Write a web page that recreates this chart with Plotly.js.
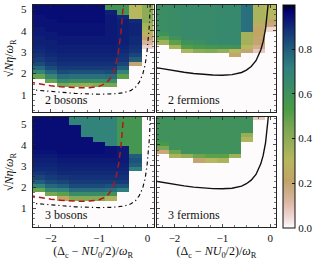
<!DOCTYPE html>
<html>
<head>
<meta charset="utf-8">
<script src="https://cdn.plot.ly/plotly-3.0.1.min.js"></script>
<style>html,body{margin:0;padding:0;background:#fff;}#chart{width:317px;height:260px;}</style>
</head>
<body>
<div id="chart"></div>
<script>
// detuning (cell centres) and coupling (cell centres)
const detuning = [-2.25, -2.0, -1.75, -1.5, -1.25, -1.0, -0.75, -0.5, -0.25, 0.0];
const coupling = [0.25, 0.45, 0.65, 0.85, 1.05, 1.25, 1.45, 1.65, 1.85, 2.05, 2.25, 2.45, 2.65, 2.85,
                  3.05, 3.25, 3.45, 3.65, 3.85, 4.05, 4.25, 4.45, 4.65, 4.85, 5.05, 5.25, 5.45];

// each panel: one list per detuning column, values from lowest to highest coupling
const bosons2Cols = [
  [0,0,0,0,0,0,0,0,0.48,0.68,0.78,0.84,0.87,0.89,0.9,0.91,0.92,0.92,0.93,0.93,0.94,0.94,0.94,0.95,0.95,0.95,0.95],
  [0,0,0,0,0,0,0,0.48,0.68,0.78,0.84,0.87,0.89,0.9,0.91,0.92,0.92,0.93,0.93,0.94,0.94,0.94,0.95,0.95,0.95,0.95,0.95],
  [0,0,0,0,0,0,0.45,0.66,0.77,0.84,0.87,0.89,0.9,0.91,0.92,0.92,0.93,0.93,0.94,0.94,0.94,0.95,0.95,0.95,0.95,0.95,0.95],
  [0,0,0,0,0,0,0.4,0.62,0.76,0.83,0.87,0.89,0.9,0.91,0.92,0.92,0.93,0.93,0.94,0.94,0.94,0.95,0.95,0.95,0.95,0.95,0.95],
  [0,0,0,0,0,0,0.38,0.62,0.76,0.83,0.87,0.89,0.9,0.91,0.92,0.92,0.93,0.93,0.94,0.94,0.94,0.95,0.95,0.95,0.95,0.95,0.95],
  [0,0,0,0,0,0,0.42,0.62,0.76,0.83,0.87,0.89,0.9,0.91,0.92,0.92,0.93,0.93,0.94,0.94,0.94,0.95,0.95,0.95,0.95,0.95,0.95],
  [0,0,0,0,0,0,0.45,0.64,0.77,0.84,0.87,0.89,0.9,0.91,0.92,0.92,0.93,0.93,0.93,0.93,0.93,0.93,0.93,0.92,0.58,0.58,0.58],
  [0,0,0,0,0,0,0,0,0.5,0.7,0.8,0.85,0.88,0.89,0.9,0.91,0.92,0.92,0.92,0.92,0.92,0.92,0.9,0.58,0.58,0.58,0.58],
  [0,0,0,0,0,0,0,0,0,0,0,0.2,0.8,0.85,0.88,0.89,0.9,0.9,0.91,0.91,0.91,0.9,0.3,0.3,0.3,0.3,0.3],
  [0,0,0,0,0,0,0,0,0,0,0,0,0,0,0,0.06,0.13,0.2,0.27,0.33,0.35,0.4,0.4,0.4,0.4,0.4,0.4]
];
const fermions2Cols = [
  [0,0,0,0,0,0,0,0,0,0,0,0,0,0,0,0,0.35,0.5,0.6,0.63,0.63,0.63,0.63,0.63,0.63,0.63,0.63],
  [0,0,0,0,0,0,0,0,0,0,0,0,0,0,0,0.33,0.5,0.6,0.64,0.64,0.64,0.64,0.64,0.64,0.64,0.64,0.64],
  [0,0,0,0,0,0,0,0,0,0,0,0,0,0,0.32,0.52,0.6,0.65,0.65,0.65,0.65,0.65,0.65,0.65,0.65,0.65,0.65],
  [0,0,0,0,0,0,0,0,0,0,0,0,0,0,0.4,0.55,0.62,0.65,0.65,0.65,0.65,0.65,0.65,0.65,0.65,0.65,0.65],
  [0,0,0,0,0,0,0,0,0,0,0,0,0,0,0.42,0.57,0.65,0.65,0.65,0.65,0.65,0.65,0.65,0.65,0.65,0.65,0.65],
  [0,0,0,0,0,0,0,0,0,0,0,0,0,0,0.38,0.58,0.66,0.66,0.66,0.66,0.66,0.66,0.66,0.66,0.66,0.66,0.66],
  [0,0,0,0,0,0,0,0,0,0,0,0,0,0.2,0.3,0.6,0.66,0.66,0.66,0.66,0.66,0.66,0.66,0.66,0.66,0.66,0.66],
  [0,0,0,0,0,0,0,0,0,0,0,0,0,0,0.2,0.3,0.35,0.35,0.35,0.76,0.76,0.76,0.76,0.76,0.76,0.76,0.76],
  [0,0,0,0,0,0,0,0,0,0,0,0,0,0,0.08,0.15,0.2,0.2,0.22,0.22,0.25,0.33,0.33,0.33,0.33,0.33,0.33],
  [0,0,0,0,0,0,0,0,0,0,0,0,0,0,0,0,0,0,0,0.05,0.18,0.2,0.3,0.3,0.3,0.3,0.3]
];
const bosons3Cols = [
  [0,0,0,0,0,0,0,0,0.48,0.7,0.8,0.85,0.88,0.9,0.91,0.92,0.93,0.94,0.95,0.95,0.95,0.95,0.95,0.95,0.95,0.95,0.95],
  [0,0,0,0,0,0,0,0.45,0.67,0.78,0.84,0.87,0.89,0.9,0.91,0.92,0.93,0.94,0.95,0.95,0.95,0.95,0.95,0.95,0.95,0.95,0.95],
  [0,0,0,0,0,0,0.22,0.5,0.7,0.8,0.85,0.88,0.9,0.91,0.92,0.93,0.94,0.95,0.95,0.95,0.95,0.95,0.95,0.95,0.95,0.95,0.95],
  [0,0,0,0,0,0,0.42,0.64,0.77,0.84,0.87,0.89,0.9,0.91,0.92,0.93,0.94,0.95,0.95,0.95,0.95,0.95,0.95,0.95,0.7,0.7,0.7],
  [0,0,0,0,0,0,0.42,0.64,0.77,0.84,0.87,0.89,0.9,0.91,0.92,0.93,0.94,0.95,0.95,0.95,0.95,0.7,0.7,0.7,0.7,0.7,0.7],
  [0,0,0,0,0,0,0.42,0.64,0.77,0.84,0.87,0.89,0.9,0.91,0.92,0.93,0.94,0.95,0.95,0.95,0.7,0.7,0.7,0.7,0.7,0.7,0.7],
  [0,0,0,0,0,0,0.33,0.6,0.76,0.83,0.87,0.89,0.9,0.91,0.92,0.93,0.94,0.94,0.94,0.7,0.7,0.7,0.7,0.7,0.7,0.7,0.7],
  [0,0,0,0,0,0,0,0,0.72,0.82,0.87,0.89,0.9,0.91,0.92,0.93,0.93,0.93,0.93,0.57,0.57,0.57,0.57,0.57,0.57,0.57,0.57],
  [0,0,0,0,0,0,0,0,0,0,0,0,0,0.72,0.8,0.82,0.8,0.57,0.57,0.57,0.57,0.57,0.57,0.57,0.57,0.57,0.57],
  [0,0,0,0,0,0,0,0,0,0,0,0,0,0,0,0,0,0,0,0,0,0,0,0,0,0,0]
];
const fermions3Cols = [
  [0,0,0,0,0,0,0,0,0,0,0,0,0,0,0,0,0,0.18,0.45,0.55,0.6,0.6,0.6,0.6,0.6,0.6,0.6],
  [0,0,0,0,0,0,0,0,0,0,0,0,0,0,0,0,0.33,0.47,0.6,0.6,0.6,0.6,0.6,0.6,0.6,0.6,0.6],
  [0,0,0,0,0,0,0,0,0,0,0,0,0,0,0,0,0.38,0.6,0.6,0.6,0.6,0.6,0.6,0.6,0.6,0.6,0.6],
  [0,0,0,0,0,0,0,0,0,0,0,0,0,0,0,0.2,0.47,0.6,0.6,0.6,0.6,0.6,0.6,0.6,0.6,0.6,0.6],
  [0,0,0,0,0,0,0,0,0,0,0,0,0,0,0,0.3,0.5,0.6,0.6,0.6,0.6,0.6,0.6,0.6,0.6,0.6,0.6],
  [0,0,0,0,0,0,0,0,0,0,0,0,0,0,0,0.33,0.5,0.6,0.6,0.6,0.6,0.6,0.6,0.6,0.6,0.6,0.6],
  [0,0,0,0,0,0,0,0,0,0,0,0,0,0,0,0,0.36,0.6,0.6,0.6,0.6,0.6,0.6,0.6,0.6,0.6,0.6],
  [0,0,0,0,0,0,0,0,0,0,0,0,0,0,0,0,0,0,0,0,0.32,0.38,0.6,0.6,0.6,0.6,0.6],
  [0,0,0,0,0,0,0,0,0,0,0,0,0,0,0,0,0,0,0,0,0,0,0,0,0,0.08,0.08],
  [0,0,0,0,0,0,0,0,0,0,0,0,0,0,0,0,0,0,0,0,0,0,0,0,0,0,0]
];

// threshold curves
const bosonRedX = [-2.45, -2.2, -2.0, -1.8, -1.6, -1.4, -1.2, -1.0, -0.9, -0.8, -0.75, -0.7, -0.65, -0.6, -0.55, -0.52, -0.49];
const bosonRedY = [1.6, 1.5, 1.43, 1.38, 1.35, 1.33, 1.34, 1.4, 1.5, 1.68, 1.85, 2.1, 2.5, 3.05, 3.9, 4.6, 5.5];
const bosonDashDotX = [-2.45, -2.0, -1.5, -1.0, -0.7, -0.5, -0.35, -0.25, -0.17, -0.1, -0.05, -0.01, 0.02, 0.04, 0.06];
const bosonDashDotY = [1.25, 1.15, 1.07, 1.03, 1.05, 1.1, 1.2, 1.35, 1.6, 1.95, 2.4, 3.0, 3.6, 4.3, 5.5];
const fermionX = [-2.45, -2.2, -2.0, -1.8, -1.6, -1.4, -1.2, -1.0, -0.8, -0.6, -0.5, -0.4, -0.3, -0.2, -0.15, -0.1, -0.07, -0.05, -0.03];
const fermionY = [2.3, 2.2, 2.12, 2.06, 2.0, 1.96, 1.93, 1.92, 1.95, 2.05, 2.16, 2.33, 2.6, 3.1, 3.5, 4.1, 4.6, 5.0, 5.6];

const panelLabels = ['2 bosons', '2 fermions', '3 bosons', '3 fermions'];
const colorbarTicks = [0, 0.2, 0.4, 0.6, 0.8, 1.0];

// gist_earth_r
const cmap = [
  [0.0, 'rgb(253,251,251)'], [0.0353, 'rgb(243,225,224)'], [0.0588, 'rgb(236,211,206)'],
  [0.102, 'rgb(224,189,173)'], [0.1333, 'rgb(215,178,152)'], [0.1843, 'rgb(200,167,121)'],
  [0.2118, 'rgb(193,163,103)'], [0.302, 'rgb(183,183,94)'], [0.38, 'rgb(150,174,88)'],
  [0.451, 'rgb(120,166,82)'], [0.4784, 'rgb(105,163,78)'], [0.5333, 'rgb(74,155,70)'],
  [0.63, 'rgb(59,141,100)'], [0.7176, 'rgb(48,128,128)'], [0.7922, 'rgb(35,98,124)'],
  [0.8353, 'rgb(28,77,122)'], [0.8902, 'rgb(19,48,120)'], [0.94, 'rgb(10,19,117)'],
  [0.9686, 'rgb(5,2,116)'], [0.9922, 'rgb(1,0,56)'], [1.0, 'rgb(0,0,0)']
];

function toGrid(cols) {
  return coupling.map((_, r) => cols.map(c => c[r]));
}

const panels = [
  {cols: bosons2Cols, xa: 'x', ya: 'y'},
  {cols: fermions2Cols, xa: 'x2', ya: 'y2'},
  {cols: bosons3Cols, xa: 'x3', ya: 'y3'},
  {cols: fermions3Cols, xa: 'x4', ya: 'y4'}
];

const serif = 'Liberation Serif, serif';
const traces = [];
panels.forEach((p, i) => {
  traces.push({
    type: 'heatmap', x: detuning, y: coupling, z: toGrid(p.cols),
    xaxis: p.xa, yaxis: p.ya, zmin: 0, zmax: 1, colorscale: cmap,
    zsmooth: false, hoverinfo: 'skip', showscale: i === 0,
    colorbar: i === 0 ? {
      x: 286 / 317, xanchor: 'left', xref: 'paper',
      y: 1 - 4.7 / 260, yanchor: 'top', yref: 'paper',
      len: (227.3 - 4.7) / 260, lenmode: 'fraction',
      thickness: 12, thicknessmode: 'pixels', xpad: 0, ypad: 0,
      outlinewidth: 1, outlinecolor: '#111',
      tickvals: colorbarTicks, tickformat: '.1f', ticks: 'inside', ticklen: 3,
      tickcolor: '#111', tickfont: {size: 11, family: serif, color: '#111'}
    } : undefined
  });
});

const bosonAxes = [['x', 'y'], ['x3', 'y3']];
const fermionAxes = [['x2', 'y2'], ['x4', 'y4']];
bosonAxes.forEach(([xa, ya]) => {
  traces.push({type: 'scatter', mode: 'lines', x: bosonRedX, y: bosonRedY, xaxis: xa, yaxis: ya,
    line: {color: '#b01818', width: 1.5, dash: '6px,4px'}, hoverinfo: 'skip'});
  traces.push({type: 'scatter', mode: 'lines', x: bosonDashDotX, y: bosonDashDotY, xaxis: xa, yaxis: ya,
    line: {color: '#111', width: 1.2, dash: '4px,3px,1.2px,3px'}, hoverinfo: 'skip'});
});
fermionAxes.forEach(([xa, ya]) => {
  traces.push({type: 'scatter', mode: 'lines', x: fermionX, y: fermionY, xaxis: xa, yaxis: ya,
    line: {color: '#111', width: 1.4}, hoverinfo: 'skip'});
});

const font = {family: serif, size: 11, color: '#111'};
function ax(extra) {
  return Object.assign({
    showline: true, linecolor: '#222', linewidth: 1, mirror: 'allticks',
    ticks: 'inside', ticklen: 3.5, tickwidth: 0.8, tickcolor: '#222',
    dtick: 1, tick0: 0, showgrid: false, zeroline: false, fixedrange: true,
    tickfont: font,
    minor: {dtick: 0.25, tick0: 0, ticks: 'inside', ticklen: 2, tickwidth: 0.6, tickcolor: '#222', showgrid: false}
  }, extra);
}
const xTitle = {text: '(Δ<sub>c</sub> − <i>NU</i><sub>0</sub>/2)/<i>ω</i><sub>R</sub>', font: {family: serif, size: 12, color: '#111'}, standoff: 4};
const yTitle = {text: '√<i>Nη</i>/<i>ω</i><sub>R</sub>', font: {family: serif, size: 12, color: '#111'}, standoff: 4};

const xL = [33 / 317, 155 / 317], xR = [158 / 317, 279 / 317];
const yT = [1 - 112 / 260, 1 - 4.7 / 260], yB = [1 - 227.3 / 260, 1 - 116.7 / 260];
const xr = [-2.375, 0.125];

const layout = {
  width: 317, height: 260, margin: {l: 0, r: 0, t: 0, b: 0},
  paper_bgcolor: '#ffffff', plot_bgcolor: 'rgb(253,251,251)', showlegend: false,
  font: font,
  xaxis: ax({domain: xL, anchor: 'y', range: xr, showticklabels: false}),
  yaxis: ax({domain: yT, anchor: 'x', range: [0.2, 5.22], ticklabelstandoff: 3, title: yTitle}),
  xaxis2: ax({domain: xR, anchor: 'y2', range: xr, showticklabels: false}),
  yaxis2: ax({domain: yT, anchor: 'x2', range: [0.2, 5.22], showticklabels: false}),
  xaxis3: ax({domain: xL, anchor: 'y3', range: xr, title: xTitle}),
  yaxis3: ax({domain: yB, anchor: 'x3', range: [0.1, 5.33], ticklabelstandoff: 3, title: yTitle}),
  xaxis4: ax({domain: xR, anchor: 'y4', range: xr, title: xTitle}),
  yaxis4: ax({domain: yB, anchor: 'x4', range: [0.1, 5.33], showticklabels: false}),
  annotations: [
    {text: panelLabels[0], xref: 'x', yref: 'y', x: -2.17, y: 0.75},
    {text: panelLabels[1], xref: 'x2', yref: 'y2', x: -2.17, y: 0.75},
    {text: panelLabels[2], xref: 'x3', yref: 'y3', x: -2.17, y: 0.67},
    {text: panelLabels[3], xref: 'x4', yref: 'y4', x: -2.17, y: 0.67}
  ].map(a => Object.assign(a, {showarrow: false, xanchor: 'left', yanchor: 'middle',
    font: {family: serif, size: 12, color: '#111'}}))
};

Plotly.newPlot('chart', traces, layout, {staticPlot: true, displayModeBar: false});
</script>
</body>
</html>
